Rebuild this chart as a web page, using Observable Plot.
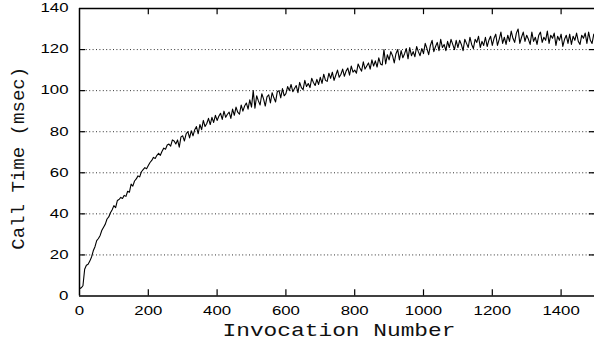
<!DOCTYPE html>
<html><head><meta charset="utf-8">
<script src="https://cdn.jsdelivr.net/npm/d3@7"></script>
<script src="https://cdn.jsdelivr.net/npm/@observablehq/plot@0.6"></script>
<style>html,body{margin:0;padding:0;background:#fff} svg{display:block}</style>
</head><body>
<script>
// invocation sampled every 5 calls
const step = 5;
const callTime = [
  3.5, 4, 5, 13, 15, 15.5, 17, 19, 22, 24, 27, 28, 29.5, 32, 33.5, 35, 37.5, 38.5, 40.5, 42,
  44, 43, 46.5, 47, 48, 47.5, 49, 48.5, 51, 50.5, 54.5, 53.5, 56, 57, 58.5, 58, 60.5, 61.5, 62.5, 62,
  63.5, 65, 66, 67.5, 67, 68.5, 69.5, 68.5, 70.5, 72, 71.5, 73.5, 74, 73, 76, 75.5, 74, 76, 72.5, 77.5,
  78, 75.5, 79, 80, 77, 80.5, 78, 81, 82.5, 79, 83.5, 81, 85.5, 82.5, 84, 86.5, 83.5, 87, 84.5, 88,
  85.5, 87.5, 89, 86, 90, 87, 88.5, 89.5, 86.5, 91, 88, 92, 89.5, 88.5, 93, 90, 92.5, 94, 91, 95.5,
  92, 100, 91.5, 97.5, 95, 93, 98.5, 96, 92.5, 97, 98, 94, 99, 96.5, 94.5, 99.5, 100, 96.5, 101, 97.5,
  98.5, 102, 100, 103, 99.5, 101, 102.5, 99, 104, 101.5, 100.5, 105, 102, 103.5, 101.5, 106, 104, 102.5, 105.5, 103,
  106.5, 103.5, 108, 105, 104.5, 108.5, 106, 109, 105, 107.5, 110, 106.5, 108, 110.5, 107, 109.5, 111, 107.5, 112, 109,
  110, 108.5, 113, 111, 109.5, 114, 110.5, 112, 113.5, 110.5, 115, 112, 114.5, 111.5, 116, 113, 112.5, 120, 113, 117.5,
  115, 119, 117, 113.5, 118, 120, 115, 119.5, 116, 118, 120.5, 115.5, 121, 117, 119, 116.5, 121.5, 119, 117, 120.5,
  118, 123, 120.5, 117.5, 122, 124.5, 119, 121.5, 123.5, 119.5, 125, 121, 122.5, 119.5, 124, 121, 125, 122.5, 120, 124.5,
  121, 124.5, 122.5, 119.5, 125, 123, 121, 126, 122.5, 120.5, 125, 123.5, 126.5, 121, 124, 122, 126, 121.5, 124.5, 126.5,
  122, 125.5, 127.5, 122, 125, 128.5, 123, 126, 122.5, 127, 124, 129, 125.5, 123.5, 128, 130, 123, 126, 128.5, 124,
  127, 125, 122.5, 128.5, 124, 126, 122.5, 127, 128.5, 123.5, 126, 124.5, 129, 123, 127, 125.5, 128, 122, 126.5, 124.5,
  127.5, 121.5, 125, 127, 123, 127.5, 122.5, 126.5, 124.5, 128, 124, 122.5, 127, 125.5, 128, 123, 128.5, 124.5, 123, 127.5,
  125.5
];
const xTicks = [0, 200, 400, 600, 800, 1000, 1200, 1400];
const yTicks = [0, 20, 40, 60, 80, 100, 120, 140];
const gridTicks = [20, 40, 60, 80, 100, 120];
const xTitle = "Invocation Number";
const yTitle = "Call Time (msec)";

const data = callTime.map((v, i) => ({n: i * step, t: v}));
const innerX = xTicks.filter(d => d > 0);
const innerY = yTicks.filter(d => d > 0 && d < 140);

const plot = Plot.plot({
  width: 594, height: 342,
  marginLeft: 79, marginRight: 0, marginTop: 8, marginBottom: 46.5,
  x: {domain: [0, 1500], range: [79, 595], axis: null},
  y: {domain: [0, 140], range: [295.5, 8], axis: null},
  style: {fontFamily: "'Liberation Sans', Arial, sans-serif", background: "white", overflow: "visible", color: "black"},
  marks: [
    Plot.ruleY(gridTicks, {x1: 0, x2: 1500, stroke: "#333", strokeWidth: 1, strokeDasharray: "1,2.4"}),
    Plot.line(data, {x: "n", y: "t", stroke: "black", strokeWidth: 1.1}),
    // inward ticks
    Plot.ruleX(innerX, {y1: 0, y2: 3, stroke: "black", strokeWidth: 1.2}),
    Plot.ruleX(innerX, {y1: 137, y2: 140, stroke: "black", strokeWidth: 1.2}),
    Plot.ruleY(innerY, {x1: 0, x2: 18, stroke: "black", strokeWidth: 1.2}),
    Plot.ruleY(innerY, {x1: 1482, x2: 1500, stroke: "black", strokeWidth: 1.2}),
    // frame (right edge lies outside the picture)
    Plot.ruleY([0, 140], {x1: 0, x2: 1500, stroke: "black", strokeWidth: 1.5}),
    Plot.ruleX([0], {y1: 0, y2: 140, stroke: "black", strokeWidth: 1.5}),
    // tick labels
    Plot.text(xTicks, {x: d => d, y: 0, dy: 15.5, text: d => String(d), fontSize: 12, fill: "black"}),
    Plot.text(yTicks, {x: 0, y: d => d, dx: -11, textAnchor: "end", text: d => String(d), fontSize: 12, fill: "black"}),
    // titles
    Plot.text([xTitle], {frameAnchor: "bottom", lineAnchor: "middle", textAnchor: "middle", dx: 2, dy: 34, text: d => d, fontSize: 19, fontFamily: "'Liberation Mono', 'Courier New', monospace", fill: "#111"}),
    Plot.text([yTitle], {frameAnchor: "left", lineAnchor: "middle", textAnchor: "middle", dx: -61, dy: 6, rotate: -90, text: d => d, fontSize: 18, fontFamily: "'Liberation Mono', 'Courier New', monospace", fill: "#111"})
  ]
});
document.body.appendChild(plot);

// the reference glyphs are drawn wider than tall: stretch the texts
plot.querySelectorAll("text").forEach(t => {
  const s = t.textContent;
  const w = t.getComputedTextLength();
  if (/^\d+$/.test(s)) {
    t.setAttribute("textLength", (w * 1.4).toFixed(1));
    t.setAttribute("lengthAdjust", "spacingAndGlyphs");
  } else if (s === xTitle) {
    t.setAttribute("textLength", "233");
    t.setAttribute("lengthAdjust", "spacingAndGlyphs");
  } else if (s === yTitle) {
    t.setAttribute("textLength", "183");
    t.setAttribute("lengthAdjust", "spacingAndGlyphs");
  }
});
</script>
</body></html>
